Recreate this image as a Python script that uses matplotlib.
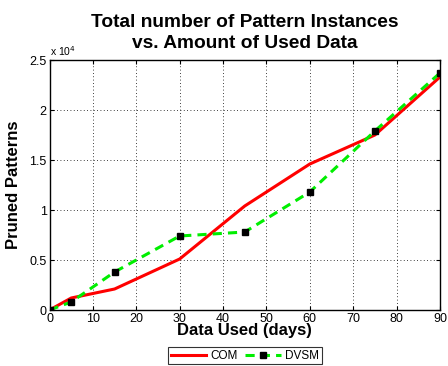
import numpy as np
import matplotlib
matplotlib.use("Agg")
from matplotlib import pyplot as plt
from matplotlib.ticker import FuncFormatter

plt.rcParams['font.family'] = ['Liberation Sans', 'DejaVu Sans']

days = [0, 5, 15, 30, 45, 60, 75, 90]
com = [0, 1200, 2100, 5100, 10400, 14600, 17500, 23300]
dvsm = [0, 800, 3800, 7400, 7800, 11800, 17900, 23700]

fig = plt.figure(figsize=(4.48, 3.66), dpi=100)
ax = fig.add_axes([0.1105, 0.153, 0.8715, 0.683])

ax.plot(days, com, color='red', lw=2.2, label='COM')
ax.plot(days, dvsm, color='#00ee00', lw=2.2, ls=(0, (3, 2)), marker='s',
        ms=5, mfc='black', mec='black', label='DVSM')

ax.set_xlim(0, 90)
ax.set_ylim(0, 25000)
ax.set_xticks(range(0, 91, 10))
ax.set_yticks(np.arange(0, 25001, 5000))
ax.yaxis.set_major_formatter(FuncFormatter(lambda v, p: f"{v/1e4:g}"))
ax.tick_params(direction='in', labelsize=9, length=3, top=True, right=True, pad=2)
ax.grid(True, ls=(0, (1, 3)), color='black', lw=0.6)
for s in ax.spines.values():
    s.set_linewidth(1.0)

ax.text(0.0, 1.01, r'x 10$^4$', transform=ax.transAxes, fontsize=7.5, ha='left', va='bottom')

ax.set_title('Total number of Pattern Instances\nvs. Amount of Used Data',
             fontsize=13.8, fontweight='bold', pad=9, linespacing=1.3)
ax.set_xlabel('Data Used (days)', fontsize=12, fontweight='bold', labelpad=-1)
ax.set_ylabel('Pruned Patterns', fontsize=12, fontweight='bold', labelpad=6)

leg = ax.legend(loc='lower center', bbox_to_anchor=(0.547, 0.005),
                bbox_transform=fig.transFigure, ncol=2, borderaxespad=0,
                fontsize=8.5, frameon=True, fancybox=False, edgecolor='black',
                handlelength=3, columnspacing=0.6, borderpad=0.2, handletextpad=0.4)
leg.get_frame().set_linewidth(0.8)

fig.savefig('out.png', dpi=100)
